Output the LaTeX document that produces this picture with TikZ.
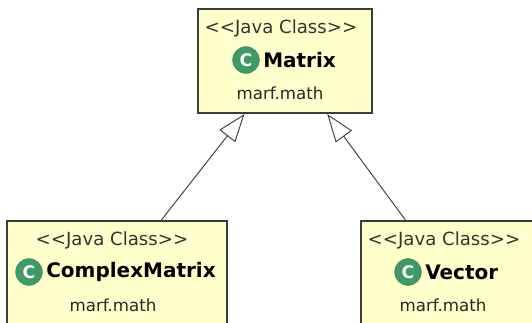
\documentclass[tikz,border=0pt]{standalone}
\usepackage{tikz}
\usepackage{xcolor}
\usepackage{fontspec}
\setmainfont{DejaVu Sans}
\usetikzlibrary{arrows.meta,calc}
\definecolor{classfill}{HTML}{FFFFCC}
\definecolor{classline}{HTML}{3C3C3C}
\definecolor{iconfill}{HTML}{3F9A66}
\tikzset{
  classbox/.style={draw=classline, line width=1.5pt, fill=classfill, anchor=north west, inner sep=0pt},
  stereo/.style={font=\fontsize{13.6pt}{15pt}\selectfont, text=black!80, inner sep=0pt},
  classname/.style={font=\fontsize{15pt}{17pt}\selectfont\bfseries, inner sep=0pt, anchor=west},
  pkg/.style={font=\fontsize{12.5pt}{14pt}\selectfont, text=black!85, inner sep=0pt},
  classicon/.style={circle, fill=iconfill, draw=iconfill!70!black, line width=0.3pt, minimum size=20pt, inner sep=0pt, text=white, font=\fontsize{13pt}{13pt}\selectfont\bfseries},
  inherit/.style={-{Triangle[open, length=21pt, width=15pt, fill=white]}, line width=0.7pt, classline}
}
\begin{document}
\begin{tikzpicture}[x=0.75pt, y=-0.75pt]
\clip (0,0) rectangle (532,322);
\fill[white] (0,0) rectangle (532,322);
% top class
\node (matrix) [classbox, minimum width=130.5pt, minimum height=78pt] at (197,8) {};
\node (matrixstereo) [stereo] at (281,28) {{<}{<}Java Class{>}{>}};
\node (matrixicon) [classicon] at (246,60) {C};
\node (matrixname) [classname] at (263,60) {Matrix};
\node (matrixpkg) [pkg] at (280,93) {marf.math};
% left class
\node (complex) [classbox, minimum width=165pt, minimum height=120pt] at (6,220) {};
\node (complexstereo) [stereo] at (112,240) {{<}{<}Java Class{>}{>}};
\node (complexicon) [classicon] at (29,272) {C};
\node (complexname) [classname] at (46,272) {ComplexMatrix};
\node (complexpkg) [pkg] at (113,305) {marf.math};
% right class
\node (vector) [classbox, minimum width=144pt, minimum height=120pt] at (360,220) {};
\node (vectorstereo) [stereo] at (444,240) {{<}{<}Java Class{>}{>}};
\node (vectoricon) [classicon] at (408,272) {C};
\node (vectorname) [classname] at (425,272) {Vector};
\node (vectorpkg) [pkg] at (443,305) {marf.math};
% generalisation
\draw[inherit] ($(complex.north west)!0.70!(complex.north east)$) -- ($(matrix.south west)!0.27!(matrix.south east)$);
\draw[inherit] ($(vector.north west)!0.234!(vector.north east)$) -- ($(matrix.south west)!0.74!(matrix.south east)$);
\end{tikzpicture}
\end{document}
